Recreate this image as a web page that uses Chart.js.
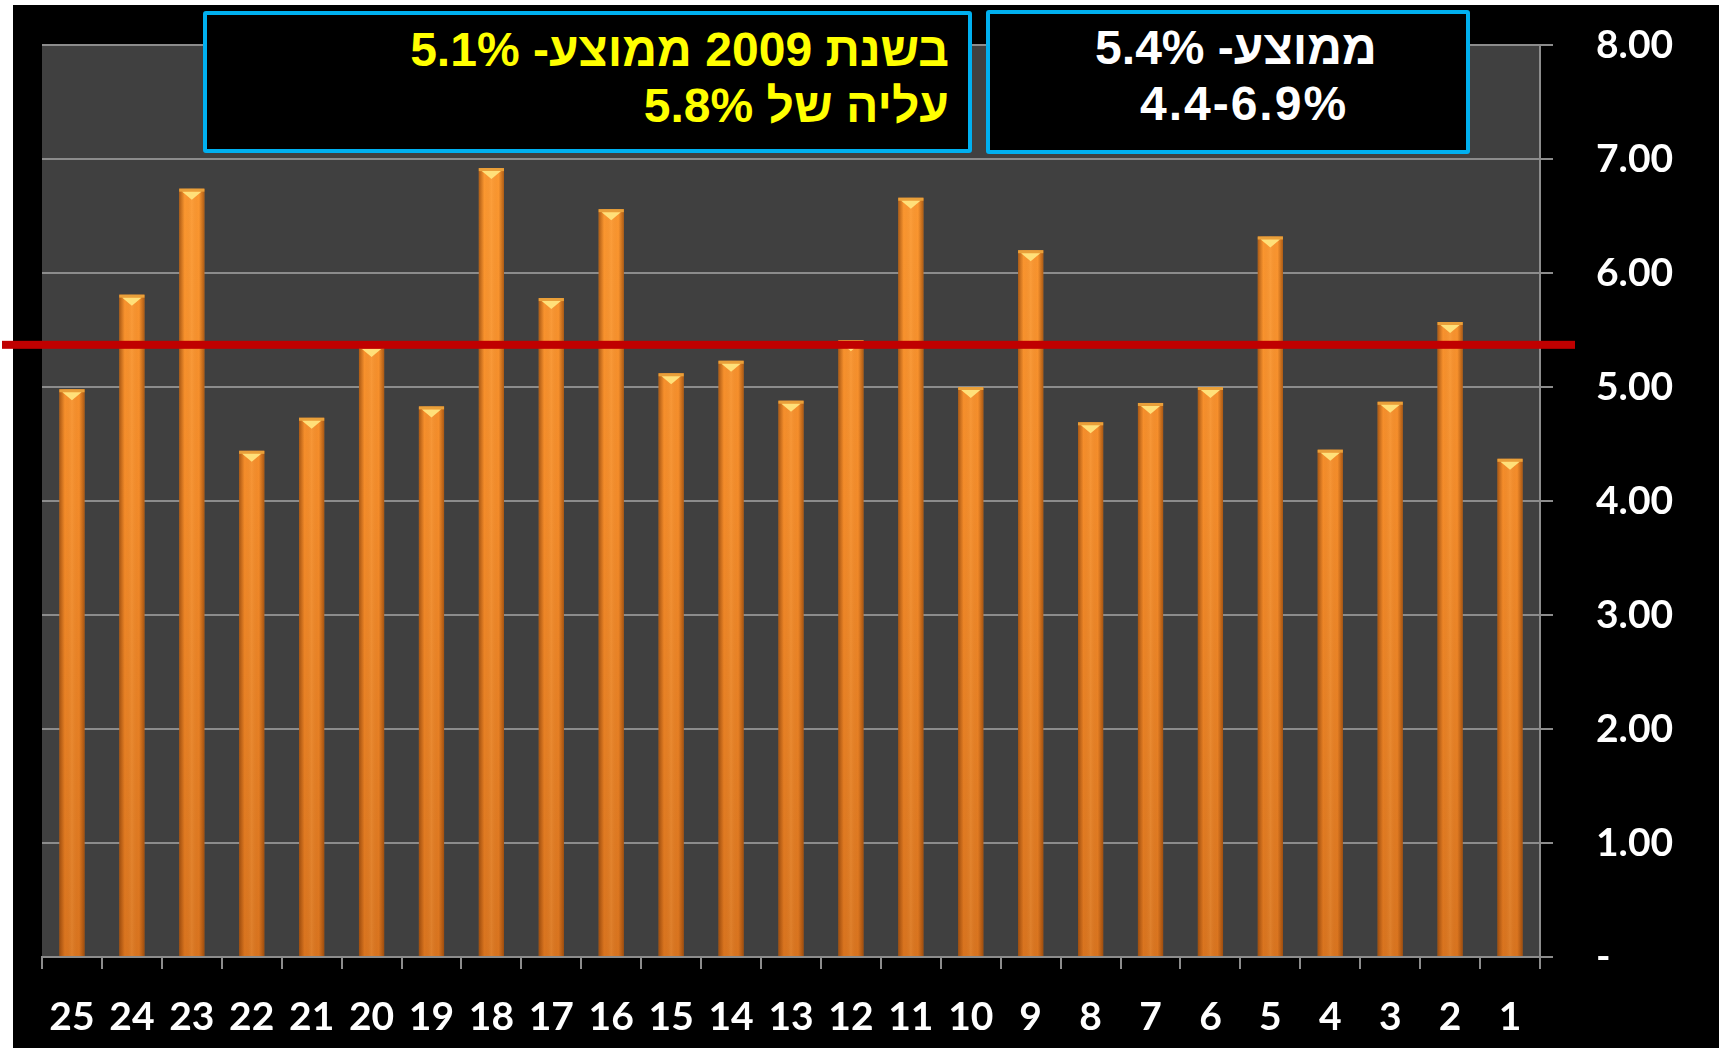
<!DOCTYPE html>
<html lang="he">
<head>
<meta charset="utf-8">
<title>ממוצע</title>
<script src="https://cdn.jsdelivr.net/npm/chart.js@4.4.1/dist/chart.umd.min.js"></script>
<style>
  html, body { margin: 0; padding: 0; background: #fff; overflow: hidden; }
  #wrap { position: relative; width: 1719px; height: 1048px; }
  .caixa {
    position: absolute; box-sizing: border-box; background: #000;
    border: 4px solid #00B0F0; border-radius: 3px;
    font-family: "Liberation Sans", Arial, sans-serif; font-weight: bold;
    font-size: 48px; line-height: 56px; white-space: nowrap;
  }
  #caixa1 { left: 203px; top: 11px; width: 769px; height: 142px; color: #FFFF00; text-align: right; padding: 7px 19px 0 0; }
  #caixa2 { left: 986px; top: 10px; width: 484px; height: 144px; color: #fff; text-align: center; padding: 6px 0 0 16px; }
  #caixa2 .linha2 { letter-spacing: 2px; position: relative; left: 8px; }
</style>
</head>
<body>
<div id="wrap">
  <canvas id="grafico"></canvas>
  <div class="caixa" id="caixa1" dir="rtl">בשנת 2009 ממוצע- 5.1%<br>עליה של 5.8%</div>
  <div class="caixa" id="caixa2" dir="rtl">ממוצע- 5.4%<br><span class="linha2">4.4-6.9%</span></div>
</div>
<script>
  // dados do grafico
  const categorias = ['25', '24', '23', '22', '21', '20', '19', '18', '17', '16', '15', '14', '13',
                      '12', '11', '10', '9', '8', '7', '6', '5', '4', '3', '2', '1'];
  const valores = [4.98, 5.81, 6.74, 4.44, 4.73, 5.36, 4.83, 6.92, 5.78, 6.56, 5.12, 5.23, 4.88,
                   5.41, 6.66, 5.00, 6.20, 4.69, 4.86, 5.00, 6.32, 4.45, 4.87, 5.57, 4.37];
  const mediaGeral = 5.37;
  const rotulosY = ['-', '1.00', '2.00', '3.00', '4.00', '5.00', '6.00', '7.00', '8.00'];

  const fonteEixo = { family: 'Lato', weight: 'bold', size: 39 };
  const cinza = '#8C8C8C';

  /* fundo branco, bloco preto e area do grafico */
  const fundo = {
    id: 'fundo',
    beforeDraw(chart) {
      const { ctx, width, height, chartArea } = chart;
      ctx.save();
      ctx.fillStyle = '#fff';
      ctx.fillRect(0, 0, width, height);
      ctx.fillStyle = '#000';
      ctx.fillRect(13, 5, width - 13, height - 5);
      ctx.fillStyle = '#404040';
      ctx.fillRect(chartArea.left, chartArea.top, chartArea.width, chartArea.height);
      ctx.restore();
    }
  };

  /* sombreado das barras, topo amarelo e linha da media */
  const acabamento = {
    id: 'acabamento',
    afterDatasetsDraw(chart) {
      const { ctx, chartArea, scales } = chart;
      const meta = chart.getDatasetMeta(0);
      ctx.save();
      meta.data.forEach(bar => {
        const { x, y, base, width } = bar.getProps(['x', 'y', 'base', 'width'], true);
        const esq = x - width / 2;
        const g = ctx.createLinearGradient(esq, 0, esq + width, 0);
        g.addColorStop(0, 'rgba(110,45,0,0.55)');
        g.addColorStop(0.22, 'rgba(110,45,0,0)');
        g.addColorStop(0.5, 'rgba(255,210,140,0.12)');
        g.addColorStop(0.78, 'rgba(110,45,0,0)');
        g.addColorStop(1, 'rgba(110,45,0,0.55)');
        ctx.fillStyle = g;
        ctx.fillRect(esq, y, width, base - y);

        ctx.fillStyle = '#E9A03A';
        ctx.fillRect(esq, y, width, 3);
        ctx.beginPath();
        ctx.moveTo(esq + 3, y + 3);
        ctx.lineTo(esq + width - 3, y + 3);
        ctx.lineTo(x, y + 11);
        ctx.closePath();
        ctx.fillStyle = '#FFE07A';
        ctx.fill();
      });

      const yMedia = scales.y.getPixelForValue(mediaGeral);
      ctx.fillStyle = '#C00000';
      ctx.fillRect(2, yMedia - 4, chartArea.right + 35 - 2, 8);
      ctx.restore();
    }
  };

  document.addEventListener('DOMContentLoaded', () => {
    const canvas = document.getElementById('grafico');
    canvas.width = 1719;
    canvas.height = 1048;
    const ctx = canvas.getContext('2d');

    new Chart(ctx, {
      type: 'bar',
      data: {
        labels: categorias,
        datasets: [{
          data: valores,
          backgroundColor: context => {
            const { ctx, chartArea } = context.chart;
            if (!chartArea) return '#F7922E';
            const g = ctx.createLinearGradient(0, chartArea.top, 0, chartArea.bottom);
            g.addColorStop(0, '#FF9D33');
            g.addColorStop(0.5, '#F48C2A');
            g.addColorStop(1, '#D9741F');
            return g;
          },
          borderWidth: 0,
          barPercentage: 0.42,
          categoryPercentage: 1
        }]
      },
      options: {
        responsive: false,
        animation: false,
        layout: { padding: { left: 42, top: 45, right: 0, bottom: 0 } },
        plugins: {
          legend: { display: false },
          tooltip: { enabled: false }
        },
        scales: {
          x: {
            grid: { display: true, drawOnChartArea: false, drawTicks: true, tickLength: 12, color: cinza, lineWidth: 2, offset: true },
            border: { display: true, color: cinza, width: 2 },
            ticks: { color: '#fff', font: fonteEixo, padding: 25, maxRotation: 0, autoSkip: false },
            afterFit: s => { s.height = 91; }
          },
          y: {
            position: 'right',
            min: 0,
            max: 8,
            grid: { color: cinza, lineWidth: 2, tickLength: 13, drawTicks: true },
            border: { display: true, color: cinza, width: 2 },
            ticks: {
              stepSize: 1,
              color: '#fff',
              font: fonteEixo,
              padding: 43,
              callback: value => rotulosY[value]
            },
            // a margem dos rotulos nao deve empurrar a area do grafico
            afterFit: s => { s.width = 179; s.paddingTop = 0; s.paddingBottom = 0; }
          }
        }
      },
      plugins: [fundo, acabamento]
    });
  });
</script>
</body>
</html>
